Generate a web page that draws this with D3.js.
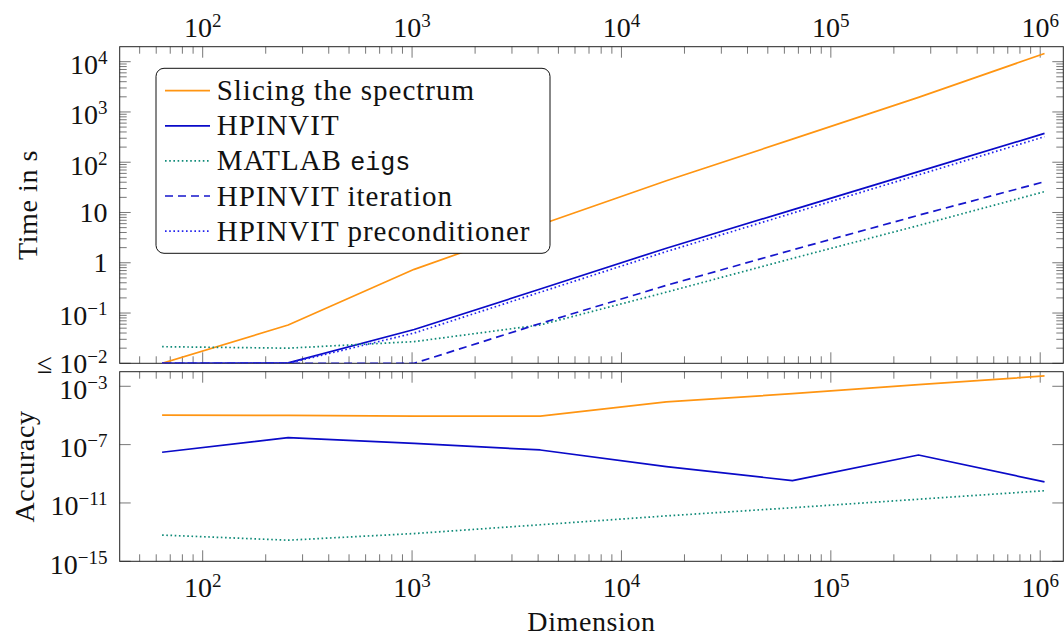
<!DOCTYPE html>
<html>
<head>
<meta charset="utf-8">
<script src="https://cdn.jsdelivr.net/npm/d3@7"></script>
<style>
  body { margin: 0; background: #fff; }
</style>
</head>
<body>
<svg id="chart" width="1064" height="639"></svg>
<script>
// Problem sizes (matrix dimension)
const dims = [64, 256, 1024, 4096, 16384, 65536, 262144, 1048576];

// Run times in seconds (values at or below 1e-2 are shown at 1e-2)
const timeSlicing   = [0.01, 0.0577, 0.74, 5.7, 42.7, 288, 1950, 14550];
const timeHpinvit   = [0.01, 0.0102, 0.047, 0.30, 1.95, 11.3, 65, 375];
const timeEigs      = [0.0214, 0.020, 0.027, 0.058, 0.26, 1.22, 5.5, 26];
const timeIteration = [0.01, 0.01, 0.01, 0.062, 0.355, 1.8, 8.8, 41];
const timePrecond   = [0.01, 0.01, 0.040, 0.26, 1.67, 9.7, 56, 322];

// Accuracy of the computed eigenvalues
const accSlicing = [1.05e-5, 1.0e-5, 9e-6, 9e-6, 8.5e-5, 3.1e-4, 1.3e-3, 5.1e-3];
const accHpinvit = [3.0e-8, 3.0e-7, 1.2e-7, 4.3e-8, 3.1e-9, 3.4e-10, 1.95e-8, 2.8e-10];
const accEigs    = [6.3e-14, 2.8e-14, 8e-14, 3.2e-13, 1.3e-12, 4.7e-12, 1.8e-11, 6.9e-11];

// Tick values and labels
const xTicks = [1e2, 1e3, 1e4, 1e5, 1e6];
const xTickLabels = ["10^2", "10^3", "10^4", "10^5", "10^6"];
const timeTicks = [1e-2, 1e-1, 1, 10, 1e2, 1e3, 1e4];
const timeTickLabels = ["≤ 10^−2", "10^−1", "1", "10", "10^2", "10^3", "10^4"];
const accTicks = [1e-15, 1e-11, 1e-7, 1e-3];
const accTickLabels = ["10^−15", "10^−11", "10^−7", "10^−3"];

// Series styling
const cOrange = "#ff9512";
const cBlue = "#0a0ac8";
const cBlueDash = "#1616cc";
const cBlueDot = "#2424ee";
const cTeal = "#0f8a78";
const solid = null, dotted = "1.6,2.6", dashed = "8,5";

const SERIF = "'Liberation Serif', 'Times New Roman', serif";
const MONO = "'Liberation Mono', 'DejaVu Sans Mono', monospace";

const timeSeries = [
  { name: "Slicing the spectrum", values: timeSlicing, color: cOrange, dash: solid },
  { name: "HPINVIT", values: timeHpinvit, color: cBlue, dash: solid },
  { name: "MATLAB eigs", values: timeEigs, color: cTeal, dash: dotted },
  { name: "HPINVIT iteration", values: timeIteration, color: cBlueDash, dash: dashed },
  { name: "HPINVIT preconditioner", values: timePrecond, color: cBlueDot, dash: dotted }
];
const accSeries = [
  { values: accSlicing, color: cOrange, dash: solid },
  { values: accHpinvit, color: cBlue, dash: solid },
  { values: accEigs, color: cTeal, dash: dotted }
];

const svg = d3.select("#chart");
const L = 119.7, R = 1063.3;
const top1 = 46.7, bot1 = 363.3, top2 = 371.7, bot2 = 561.3;

const x = d3.scaleLog().domain([40.15, 1.289e6]).range([L, R]);
const yTime = d3.scaleLog().domain([0.01, 19870]).range([bot1, top1]);
const yAcc = d3.scaleLog().domain([1e-15, 1e-2]).range([bot2, top2]);

// minor ticks 2..9 per decade inside a domain
function minorTicks(scale) {
  const [a, b] = scale.domain();
  const out = [];
  for (let k = Math.floor(Math.log10(a)); k <= Math.ceil(Math.log10(b)); k++) {
    for (let m = 2; m <= 9; m++) {
      const v = m * Math.pow(10, k);
      if (v >= a && v <= b) out.push(v);
    }
  }
  return out;
}

function serifText(parent, size) {
  return parent.append("text")
    .style("font-family", SERIF).style("font-size", size + "px").style("fill", "#111");
}

// text with a "base^exponent" form
function powLabel(sel, str, supSize) {
  const parts = str.split("^");
  sel.append("tspan").text(parts[0]);
  if (parts.length > 1) {
    sel.append("tspan").attr("dy", -10).style("font-size", supSize + "px").text(parts[1]);
  }
}

const MAJ = 11, MIN = 7;
const tickColor = "#555";

function drawPanel(y, y0, y1, yMajor, yLabels, yMinor, xLabelsOnTop, series, clipId) {
  const g = svg.append("g");
  // x ticks, top and bottom edges
  const xMin = minorTicks(x);
  [[y0, 1], [y1, -1]].forEach(([yy, dir]) => {
    g.selectAll(null).data(xMin).enter().append("line")
      .attr("x1", d => x(d)).attr("x2", d => x(d))
      .attr("y1", yy).attr("y2", yy + dir * MIN)
      .attr("stroke", tickColor).attr("stroke-width", 0.8);
    g.selectAll(null).data(xTicks).enter().append("line")
      .attr("x1", d => x(d)).attr("x2", d => x(d))
      .attr("y1", yy).attr("y2", yy + dir * MAJ)
      .attr("stroke", tickColor).attr("stroke-width", 0.8);
  });
  // y ticks, left and right edges
  [[L, 1], [R, -1]].forEach(([xx, dir]) => {
    g.selectAll(null).data(yMinor).enter().append("line")
      .attr("y1", d => y(d)).attr("y2", d => y(d))
      .attr("x1", xx).attr("x2", xx + dir * MIN)
      .attr("stroke", tickColor).attr("stroke-width", 0.8);
    g.selectAll(null).data(yMajor).enter().append("line")
      .attr("y1", d => y(d)).attr("y2", d => y(d))
      .attr("x1", xx).attr("x2", xx + dir * MAJ)
      .attr("stroke", tickColor).attr("stroke-width", 0.8);
  });
  // frame
  g.append("rect").attr("x", L).attr("y", y0).attr("width", R - L).attr("height", y1 - y0)
    .attr("fill", "none").attr("stroke", "#222").attr("stroke-width", 1);

  // y tick labels
  yMajor.forEach((v, i) => {
    const s = yLabels[i];
    const off = s.startsWith("≤") ? 10 : (s.includes("^") ? 12.3 : 9.5);
    const t = serifText(g, 28).attr("x", 107.5).attr("y", y(v) + off)
      .attr("text-anchor", "end");
    powLabel(t, s, 19);
  });
  // x tick labels
  xTicks.forEach((v, i) => {
    const t = serifText(g, 28).attr("x", x(v))
      .attr("y", xLabelsOnTop ? 37 : 596.5)
      .attr("text-anchor", "middle");
    powLabel(t, xTickLabels[i], 19);
  });

  // clip and series
  svg.append("clipPath").attr("id", clipId).append("rect")
    .attr("x", L).attr("y", y0).attr("width", R - L).attr("height", y1 - y0);
  const line = d3.line().x((d, i) => x(dims[i])).y(d => y(d));
  const pg = svg.append("g").attr("clip-path", `url(#${clipId})`);
  series.forEach(s => {
    pg.append("path").attr("d", line(s.values))
      .attr("fill", "none").attr("stroke", s.color).attr("stroke-width", 1.7)
      .attr("stroke-dasharray", s.dash).attr("stroke-linejoin", "round");
  });
}

drawPanel(yTime, top1, bot1, timeTicks, timeTickLabels, minorTicks(yTime), true, timeSeries, "clipTime");
drawPanel(yAcc, top2, bot2, accTicks, accTickLabels, [], false, accSeries, "clipAcc");

// axis titles
serifText(svg, 28).attr("transform", "translate(37,205) rotate(-90)")
  .attr("text-anchor", "middle").style("letter-spacing", "0.6px").text("Time in s");
serifText(svg, 28).attr("transform", "translate(34,466.5) rotate(-90)")
  .attr("text-anchor", "middle").style("letter-spacing", "0.6px").text("Accuracy");
serifText(svg, 28).attr("x", (L + R) / 2).attr("y", 631)
  .attr("text-anchor", "middle").style("letter-spacing", "0.6px").text("Dimension");

// legend
const lg = svg.append("g");
lg.append("rect").attr("x", 156).attr("y", 68.3).attr("width", 394).attr("height", 185)
  .attr("rx", 8).attr("fill", "#fff").attr("stroke", "#111").attr("stroke-width", 1);
timeSeries.forEach((s, i) => {
  const yy = 90.7 + i * 35.1;
  lg.append("line").attr("x1", 165).attr("x2", 210).attr("y1", yy).attr("y2", yy)
    .attr("stroke", s.color).attr("stroke-width", 1.7).attr("stroke-dasharray", s.dash);
  const t = serifText(lg, 29).attr("x", 216.7).attr("y", yy + 9.5)
    .style("letter-spacing", "1px");
  if (s.name.endsWith("eigs")) {
    t.append("tspan").text("MATLAB ");
    t.append("tspan").style("font-family", MONO).style("font-size", "25px")
      .style("letter-spacing", "0px").text("eigs");
  } else {
    t.text(s.name);
  }
});
</script>
</body>
</html>
